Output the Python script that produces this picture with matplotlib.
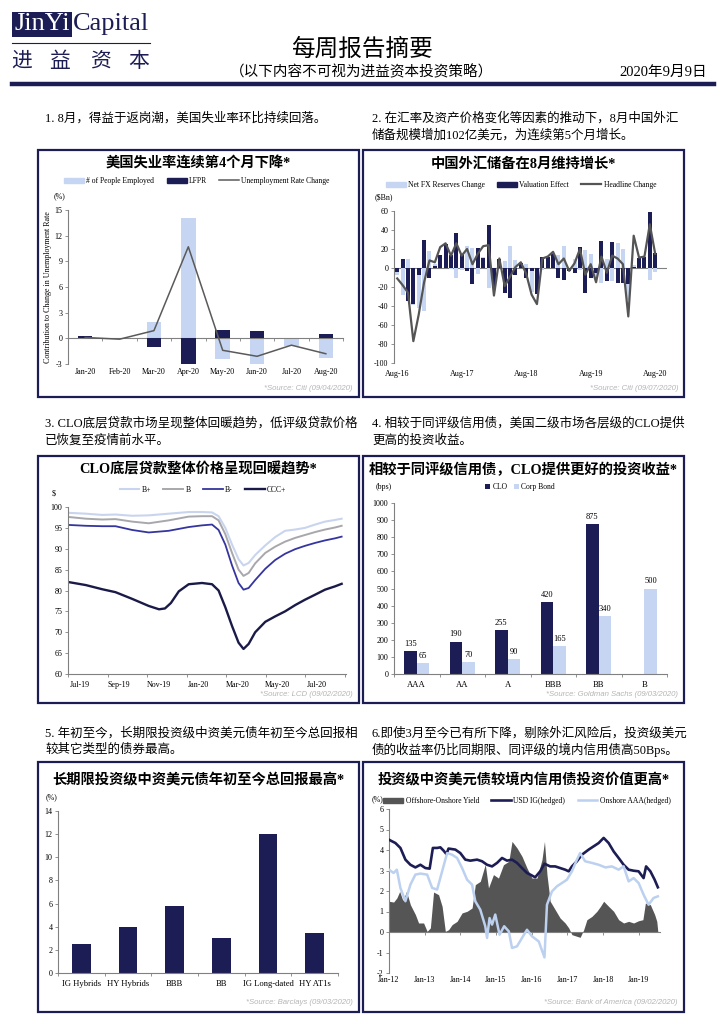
import numpy as np
import matplotlib
matplotlib.use('Agg')
import matplotlib.pyplot as plt
from matplotlib.patches import Rectangle, Patch
from matplotlib.lines import Line2D

plt.rcParams['font.family'] = ['Liberation Serif', 'Noto Sans CJK SC']
plt.rcParams['axes.unicode_minus'] = False

# ---- chart 1: US unemployment ----
ue_months = ['Jan-20', 'Feb-20', 'Mar-20', 'Apr-20', 'May-20', 'Jun-20', 'Jul-20', 'Aug-20']
ue_employed = [0.1, 0.0, 1.9, 14.1, -2.4, -3.0, -0.9, -2.3]
ue_lfpr = [0.3, 0.0, -1.0, -3.0, 1.0, 0.9, 0.05, 0.5]
ue_rate = [0.1, -0.1, 0.9, 10.7, -1.4, -2.1, -0.8, -1.8]

# ---- chart 2: China FX reserves, Aug-16 .. Aug-20 ----
fx_ticks = ['Aug-16', 'Aug-17', 'Aug-18', 'Aug-19', 'Aug-20']
fx_net = [-7, -28, 9, -39, -42, -45, 18, 4, 8, 1, -1, -11, -2, 23, 21, -6, 12, -21, -9, 1,
          7, 23, 8, 1, 4, -25, -11, -2, 0, 2, 14, 23, 0, 10, -2, 19, 15, -10, -16, 9,
          -14, 26, 20, -34, 3, 0, 0, -13, -4]
fx_val = [-4, 10, -35, -38, -7, 30, -10, 2, 14, 25, 14, 37, 15, -3, -17, 21, 11, 45, -20, 9,
          -26, -32, -7, 5, -10, -3, -27, 12, 12, 15, -10, -13, -3, -5, 22, -26, -11, -5, 28, -14,
          27, -16, -16, -17, 1, 11, 12, 59, 16]
fx_headline = [-11, -18, -26, -77, -49, -15, 8, 6, 22, 26, 13, 26, 13, 20, 4, 15, 23, 24, -29, 10,
               -19, -9, 1, 6, -6, -28, -38, 10, 12, 17, 4, 10, -3, 5, 20, -7, 4, -15, 12, -5,
               13, 10, 4, -51, 34, 11, 12, 46, 15]

# ---- chart 3: CLO loan prices (months since Jul-19) ----
clo_ticks = ['Jul-19', 'Sep-19', 'Nov-19', 'Jan-20', 'Mar-20', 'May-20', 'Jul-20']
clo_t = [0.05, 0.9, 1.73, 2.4, 3.24, 4.08, 5.09, 6.1, 6.77, 7.28, 7.61, 7.95, 8.29, 8.62, 8.87,
         9.13, 9.46, 9.97, 10.47, 10.97, 11.48, 11.98, 12.49, 12.99, 13.5, 13.83]
bplus = [98.6, 98.4, 98.1, 98.2, 97.9, 98.0, 98.4, 98.8, 98.8, 98.7, 97.8, 95.0, 91.0, 87.5, 86.0,
         86.6, 88.5, 90.8, 92.8, 94.3, 94.6, 95.0, 95.8, 96.5, 96.9, 97.2]
bflat = [97.6, 97.2, 97.0, 97.1, 96.5, 96.1, 96.8, 97.7, 97.8, 97.8, 96.8, 93.5, 89.0, 85.0, 83.5,
         84.2, 86.5, 89.0, 90.5, 91.7, 92.6, 93.3, 94.0, 94.6, 95.1, 95.5]
bminus = [95.7, 95.5, 95.4, 95.4, 94.5, 93.9, 94.3, 95.2, 95.6, 95.8, 94.5, 91.0, 86.0, 81.8, 80.2,
          80.6, 82.5, 85.2, 87.3, 88.8, 89.9, 90.7, 91.4, 92.0, 92.5, 92.9]
ccc_t = [0.05, 0.9, 1.73, 2.4, 3.24, 4.08, 4.6, 4.9, 5.2, 5.6, 6.1, 6.77, 7.28, 7.61, 7.95, 8.29,
         8.62, 8.87, 9.13, 9.46, 9.97, 10.47, 10.97, 11.48, 11.98, 12.49, 12.99, 13.5, 13.83]
cccplus = [82.0, 81.3, 80.3, 79.6, 78.0, 76.3, 75.5, 75.7, 77.0, 79.8, 81.5, 81.8, 81.5, 80.0, 76.0,
           71.5, 67.5, 66.0, 67.2, 70.0, 72.5, 73.8, 75.0, 76.5, 77.8, 79.0, 80.2, 81.0, 81.6]

# ---- chart 4: CLO vs corp bond spreads ----
ratings = ['AAA', 'AA', 'A', 'BBB', 'BB', 'B']
clo_spread = [135, 190, 255, 420, 875]
corp_spread = [65, 70, 90, 165, 340, 500]

# ---- chart 5: YTD total return ----
ret_cats = ['IG Hybrids', 'HY Hybrids', 'BBB', 'BB', 'IG Long-dated', 'HY AT1s']
ret_vals = [2.5, 4.0, 5.8, 3.0, 12.0, 3.5]

# ---- chart 6: offshore vs onshore yields ----
yr_ticks = ['Jan-12', 'Jan-13', 'Jan-14', 'Jan-15', 'Jan-16', 'Jan-17', 'Jan-18', 'Jan-19']
ig_t = [2012.0, 2012.18, 2012.32, 2012.46, 2012.6, 2012.74, 2012.88, 2013.02, 2013.14, 2013.23,
        2013.35, 2013.44, 2013.53, 2013.61, 2013.67, 2013.86, 2014.0, 2014.14, 2014.28, 2014.47,
        2014.61, 2014.75, 2014.89, 2015.03, 2015.17, 2015.31, 2015.45, 2015.59, 2015.73, 2015.87,
        2015.96, 2016.1, 2016.24, 2016.36, 2016.52, 2016.66, 2016.8, 2016.94, 2017.04, 2017.13,
        2017.27, 2017.41, 2017.6, 2017.74, 2017.88, 2018.02, 2018.16, 2018.3, 2018.44, 2018.58,
        2018.72, 2018.86, 2019.0, 2019.14, 2019.21, 2019.33, 2019.45, 2019.54]
ig_v = [4.5, 4.34, 4.1, 3.53, 3.28, 3.15, 3.28, 3.12, 3.09, 4.1, 4.1, 4.13, 3.97, 3.8, 4.07, 4.02,
        3.85, 3.53, 3.48, 3.53, 3.45, 3.28, 3.2, 3.37, 3.61, 3.48, 3.53, 3.37, 3.12, 2.88, 2.8, 2.67,
        2.96, 3.33, 3.2, 3.2, 3.12, 3.04, 2.96, 3.2, 3.45, 3.77, 4.02, 4.18, 4.34, 4.59, 4.34, 3.93,
        3.61, 3.28, 3.04, 2.99, 2.96, 2.63, 3.2, 2.96, 2.55, 2.18]
aaa_t = [2012.0, 2012.13, 2012.22, 2012.32, 2012.46, 2012.6, 2012.74, 2012.88, 2013.07, 2013.21,
         2013.35, 2013.49, 2013.63, 2013.77, 2013.91, 2014.05, 2014.19, 2014.33, 2014.42, 2014.56,
         2014.7, 2014.75, 2014.82, 2014.89, 2014.98, 2015.1, 2015.23, 2015.36, 2015.45, 2015.59,
         2015.73, 2015.87, 2016.01, 2016.2, 2016.36, 2016.43, 2016.57, 2016.71, 2016.85, 2016.99,
         2017.13, 2017.27, 2017.36, 2017.5, 2017.69, 2017.88, 2018.07, 2018.25, 2018.44, 2018.58,
         2018.72, 2018.86, 2019.0, 2019.14, 2019.28, 2019.42, 2019.54]
aaa_v = [3.04, 2.88, 3.04, 2.15, 1.5, 2.31, 2.8, 2.85, 2.8, 2.15, 2.07, 2.96, 3.85, 3.77, 3.61, 3.12,
         2.55, 2.31, 1.5, 1.09, 0.28, -0.29, 0.68, 0.36, 0.85, -0.13, 0.28, 0.03, -0.78, -0.7, -0.29,
         0.11, -0.21, -0.46, -1.24, 1.33, 1.98, 2.23, 2.39, 2.55, 2.96, 3.53, 3.85, 3.45, 3.37, 3.28,
         3.15, 3.2, 3.04, 3.2, 2.47, 2.63, 2.39, 1.82, 1.33, 1.66, 1.74]
sp_t = [2012.0, 2012.13, 2012.22, 2012.3, 2012.39, 2012.49, 2012.6, 2012.74, 2012.83, 2012.97,
        2013.07, 2013.16, 2013.25, 2013.39, 2013.49, 2013.58, 2013.67, 2013.77, 2013.91, 2014.05,
        2014.19, 2014.33, 2014.42, 2014.56, 2014.7, 2014.79, 2014.93, 2015.07, 2015.21, 2015.36,
        2015.45, 2015.59, 2015.73, 2015.87, 2016.01, 2016.15, 2016.29, 2016.36, 2016.43, 2016.52,
        2016.66, 2016.8, 2016.94, 2017.04, 2017.13, 2017.27, 2017.36, 2017.46, 2017.55, 2017.69,
        2017.83, 2017.93, 2018.02, 2018.16, 2018.3, 2018.44, 2018.58, 2018.72, 2018.86, 2019.0,
        2019.12, 2019.19, 2019.33, 2019.45, 2019.51, 2019.54]
sp_v = [1.5, 1.46, 1.66, 1.98, 1.53, 1.98, 1.33, 0.85, 0.44, 0.44, 0.03, 0.2, 1.95, 1.82, 1.25, 0.03,
        0.11, 0.36, 0.52, 0.93, 1.01, 1.17, 2.31, 2.47, 3.3, 2.15, 2.8, 2.63, 3.28, 3.45, 4.42, 4.1,
        3.69, 3.12, 2.63, 2.63, 3.53, 4.42, 2.8, 1.5, 1.09, 0.68, 0.44, 0.2, -0.13, -0.21, -0.26,
        0.11, 0.6, 0.76, 1.01, 1.25, 1.5, 1.25, 1.01, 0.6, 0.44, 0.52, 0.44, 0.55, 0.6, 1.41, 1.33,
        0.85, 0.52, 0.0]

W, H = 724, 1024
NAVY = '#1d1d55'
LIGHT = '#c6d6f2'
SRC = '#b5b5b5'
AXC = '#808080'
TS = 5.8

fig = plt.figure(figsize=(W / 100, H / 100), dpi=100)


def box(x0, y0, x1, y1):
    return [x0 / W, 1 - y1 / H, (x1 - x0) / W, (y1 - y0) / H]


def ftext(x, y, s, **kw):
    fig.text(x / W, 1 - y / H, s, **kw)


def frame(x0, y0, x1, y1, **kw):
    fig.add_artist(Rectangle((x0 / W, 1 - y1 / H), (x1 - x0) / W, (y1 - y0) / H,
                             transform=fig.transFigure, **kw))


def style(ax, bottom=False):
    for s in ['top', 'right']:
        ax.spines[s].set_visible(False)
    ax.spines['bottom'].set_visible(bottom)
    for s in ['left', 'bottom']:
        ax.spines[s].set_color(AXC)
        ax.spines[s].set_linewidth(0.8)
    ax.tick_params(labelsize=TS, length=2, width=0.6, color=AXC, pad=2)
    ax.patch.set_alpha(0)


def legend(handles, labels, x, y, **kw):
    opts = dict(handletextpad=0.3, columnspacing=1.6, handlelength=2.6)
    opts.update(kw)
    fig.legend(handles, labels, loc='center', bbox_to_anchor=(x / W, 1 - y / H), ncol=len(labels),
               frameon=False, fontsize=TS - 0.3, borderpad=0, **opts)


# ---- header ----
frame(12, 12, 72, 37, facecolor=NAVY, edgecolor='none')
ftext(42, 24, 'JinYi', color='white', fontsize=19, ha='center', va='center')
ftext(73, 24, 'Capital', color=NAVY, fontsize=19, ha='left', va='center')
fig.add_artist(Line2D([12 / W, 150 / W], [1 - 43 / H, 1 - 43 / H], color=NAVY, lw=0.8))
for cx, ch in zip([22, 60, 100, 139], '进益资本'):
    ftext(cx, 61, ch, color=NAVY, fontsize=15, ha='center', va='center', family='Noto Sans CJK SC')
fig.add_artist(Line2D([12 / W, 714 / W], [1 - 84 / H, 1 - 84 / H], color=NAVY, lw=3.2))
ftext(362, 50, '每周报告摘要', fontsize=17, ha='center', va='center')
ftext(362, 72, '（以下内容不可视为进益资本投资策略）', fontsize=10.5, ha='center', va='center')
ftext(707, 72, '2020年9月9日', fontsize=10.5, ha='right', va='center')

# ---- body text ----
BT = dict(fontsize=9, ha='left', va='center')
ftext(45, 118, '1. 8月，得益于返岗潮，美国失业率环比持续回落。', **BT)
ftext(372, 118, '2. 在汇率及资产价格变化等因素的推动下，8月中国外汇', **BT)
ftext(372, 135, '储备规模增加102亿美元，为连续第5个月增长。', **BT)
ftext(45, 423, '3. CLO底层贷款市场呈现整体回暖趋势，低评级贷款价格', **BT)
ftext(45, 441, '已恢复至疫情前水平。', **BT)
ftext(372, 423, '4. 相较于同评级信用债，美国二级市场各层级的CLO提供', **BT)
ftext(372, 441, '更高的投资收益。', **BT)
ftext(45, 733, '5. 年初至今，长期限投资级中资美元债年初至今总回报相', **BT)
ftext(45, 750, '较其它类型的债券最高。', **BT)
ftext(372, 733, '6.即使3月至今已有所下降，剔除外汇风险后，投资级美元', **BT)
ftext(372, 750, '债的收益率仍比同期限、同评级的境内信用债高50Bps。', **BT)

# ---- panel frames, titles, sources ----
panels = [(38, 150, 359, 397), (363, 150, 684, 397), (38, 456, 359, 703),
          (363, 456, 684, 703), (38, 762, 359, 1012), (363, 762, 684, 1012)]
titles = ['美国失业率连续第4个月下降*', '中国外汇储备在8月维持增长*', 'CLO底层贷款整体价格呈现回暖趋势*',
          '相较于同评级信用债，CLO提供更好的投资收益*', '长期限投资级中资美元债年初至今总回报最高*',
          '投资级中资美元债较境内信用债投资价值更高*']
sources = ['*Source: Citi (09/04/2020)', '*Source: Citi (09/07/2020)', '*Source: LCD (09/02/2020)',
           '*Source: Goldman Sachs (09/03/2020)', '*Source: Barclays (09/03/2020)',
           '*Source: Bank of America (09/02/2020)']
for (x0, y0, x1, y1), t, s in zip(panels, titles, sources):
    frame(x0, y0, x1, y1, facecolor='none', edgecolor=NAVY, lw=1.6)
    ftext((x0 + x1) / 2, y0 + 14 + (4 if y0 > 700 else 0), t, fontsize=10.3, weight='bold',
          ha='center', va='center')
    ftext(x1 - 6, y1 - 8 - (2 if y1 > 1000 else 0), s, fontsize=5.6, style='italic', color=SRC,
          ha='right', va='center', family='Liberation Sans')

# ---- chart 1 ----
ax1 = fig.add_axes(box(68, 210, 343, 364))
style(ax1, bottom=True)
ax1.spines['bottom'].set_position(('data', 0))
x1 = np.arange(len(ue_months))
ax1.bar(x1, ue_employed, width=0.42, color=LIGHT, zorder=2)
ax1.bar(x1, ue_lfpr, width=0.42, color=NAVY, zorder=3)
ax1.plot(x1, ue_rate, color='#5a5a5a', lw=1.1, zorder=4)
ax1.set_ylim(-3, 15)
ax1.set_yticks(range(-3, 16, 3))
ax1.set_xlim(-0.5, 7.5)
ax1.set_xticks(x1, ue_months)
ax1.set_xticks(np.arange(-0.5, 8, 1), minor=True)
ax1.tick_params(axis='x', which='major', length=0, pad=21)
ax1.tick_params(axis='x', which='minor', length=2, width=0.6, color=AXC)
ftext(59, 196, '(%)', fontsize=TS, ha='center', va='center')
ftext(48, 287, 'Contribution to Change in Unemployment Rate', fontsize=TS, rotation=90,
      ha='center', va='center')
legend([Patch(color=LIGHT), Patch(color=NAVY), Line2D([], [], color='#5a5a5a', lw=1.1)],
       ['# of People Employed', 'LFPR', 'Unemployment Rate Change'], 197, 181)

# ---- chart 2 ----
ax2 = fig.add_axes(box(394, 211, 667, 363))
style(ax2)
m2 = np.arange(len(fx_headline))
ax2.axhline(0, color=AXC, lw=0.8, zorder=1)
ax2.bar(m2, fx_net, width=0.75, color=LIGHT, zorder=2)
ax2.bar(m2, fx_val, width=0.75, color=NAVY, zorder=3)
ax2.plot(m2, fx_headline, color='#555555', lw=1.6, zorder=4)
ax2.set_ylim(-100, 60)
ax2.set_yticks(range(-100, 61, 20))
ax2.set_xlim(-0.6, 50.2)
ax2.set_xticks(range(0, 49, 12), fx_ticks)
ax2.tick_params(axis='x', length=0, pad=5)
ftext(375, 197, '($Bn)', fontsize=TS, ha='left', va='center')
legend([Patch(color=LIGHT), Patch(color=NAVY), Line2D([], [], color='#555555', lw=1.6)],
       ['Net FX Reserves Change', 'Valuation Effect', 'Headline Change'], 521, 185)

# ---- chart 3 ----
ax3 = fig.add_axes(box(68, 507, 346, 674))
style(ax3, bottom=True)
c3 = [('B+', bplus, '#c9d5ef', 1.5), ('B', bflat, '#a8a8ac', 1.4), ('B-', bminus, '#3535a0', 1.3)]
for lab, vals, col, lw in c3:
    ax3.plot(clo_t, vals, color=col, lw=lw, label=lab)
ax3.plot(ccc_t, cccplus, color='#1a1a48', lw=1.7, label='CCC+')
ax3.set_ylim(60, 100)
ax3.set_yticks(range(60, 101, 5))
ax3.set_xlim(0, 14.05)
ax3.set_xticks(range(0, 15, 2), [''] * 8)
ax3.set_xticks([i * 2 + 0.58 for i in range(len(clo_ticks))], clo_ticks, minor=True)
ax3.tick_params(axis='x', which='minor', length=0, pad=5, labelsize=TS)
ftext(54, 494, '$', fontsize=TS, ha='center', va='center')
h3, l3 = ax3.get_legend_handles_labels()
legend(h3, l3, 203, 490)

# ---- chart 4 ----
ax4 = fig.add_axes(box(394, 503, 667, 674))
style(ax4, bottom=True)
g = np.arange(len(ratings))
gc = g[:len(clo_spread)]
ax4.bar(gc - 0.14, clo_spread, width=0.28, color=NAVY, label='CLO')
ax4.bar(g + 0.14, corp_spread, width=0.28, color=LIGHT, label='Corp Bond')
for xx, v in zip(gc - 0.14, clo_spread):
    ax4.text(xx, v + 18, str(v), ha='center', va='bottom', fontsize=6)
for xx, v in zip(g + 0.14, corp_spread):
    ax4.text(xx, v + 18, str(v), ha='center', va='bottom', fontsize=6)
ax4.set_ylim(0, 1000)
ax4.set_yticks(range(0, 1001, 100))
ax4.set_xlim(-0.5, 5.5)
ax4.set_xticks(g, ratings)
ax4.set_xticks(np.arange(-0.5, 6, 1), minor=True)
ax4.tick_params(axis='x', which='major', length=0, pad=5, labelsize=6.2)
ax4.tick_params(axis='x', which='minor', length=2, color=AXC)
ftext(384, 487, '(bps)', fontsize=TS, ha='center', va='center')
h4, l4 = ax4.get_legend_handles_labels()
legend(h4, l4, 520, 487, handlelength=0.7, handleheight=0.7, columnspacing=0.8)

# ---- chart 5 ----
ax5 = fig.add_axes(box(58, 811, 338, 973))
style(ax5, bottom=True)
g5 = np.arange(len(ret_cats))
ax5.bar(g5, ret_vals, width=0.4, color=NAVY)
ax5.set_ylim(0, 14)
ax5.set_yticks(range(0, 15, 2))
ax5.set_xlim(-0.5, 5.5)
ax5.set_xticks(g5, ret_cats)
ax5.set_xticks(np.arange(-0.5, 6, 1), minor=True)
ax5.tick_params(axis='x', which='major', length=0, pad=5, labelsize=6.2)
ax5.tick_params(axis='x', which='minor', length=2, color=AXC)
ftext(51, 797, '(%)', fontsize=TS, ha='center', va='center')

# ---- chart 6 ----
ax6 = fig.add_axes(box(389, 809, 660, 973))
style(ax6, bottom=True)
ax6.spines['bottom'].set_position(('data', 0))
ax6.spines['bottom'].set_zorder(2)
ax6.fill_between(sp_t, 0, sp_v, color='#555555', lw=0, zorder=1, label='Offshore-Onshore Yield')
ax6.plot(ig_t, ig_v, color=NAVY, lw=1.9, zorder=3, label='USD IG(hedged)')
ax6.plot(aaa_t, aaa_v, color='#bcd0f0', lw=1.8, zorder=3, label='Onshore AAA(hedged)')
ax6.set_ylim(-2, 6)
ax6.set_yticks(range(-2, 7))
ax6.set_xlim(2012, 2019.6)
ax6.set_xticks(range(2012, 2020), yr_ticks)
ax6.tick_params(axis='x', length=2, pad=30)
ftext(377, 799, '(%)', fontsize=TS, ha='center', va='center')
legend([Patch(color='#555555'), Line2D([], [], color=NAVY, lw=1.9),
        Line2D([], [], color='#bcd0f0', lw=1.8)],
       ['Offshore-Onshore Yield', 'USD IG(hedged)', 'Onshore AAA(hedged)'], 527, 801)

fig.savefig('out.png', dpi=100)
